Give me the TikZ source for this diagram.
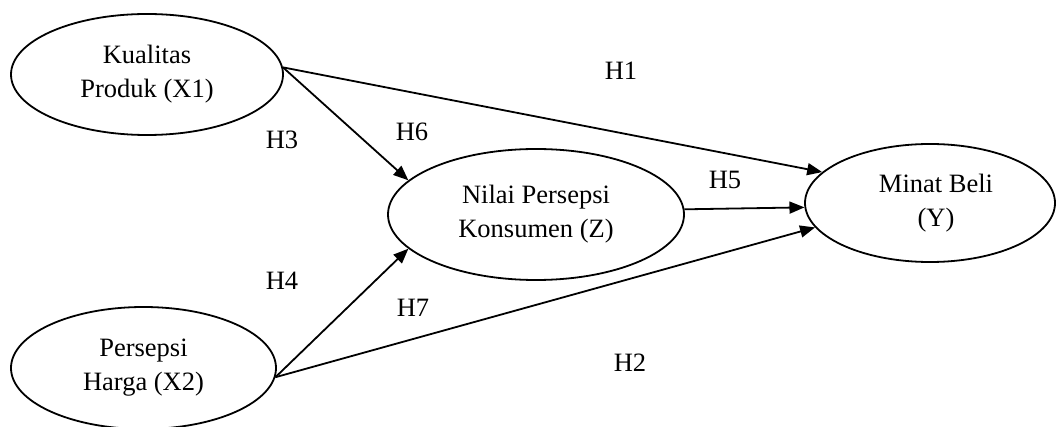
\documentclass[tikz,border=0pt]{standalone}
\usepackage{fontspec}
\setmainfont{Liberation Serif}
\usetikzlibrary{shapes.geometric,arrows.meta}
\begin{document}
\begin{tikzpicture}[x=1pt,y=-1pt,
  var/.style={ellipse,draw,line width=1.8pt,inner sep=0pt,align=center,
    font=\fontsize{26.5}{34}\selectfont},
  path/.style={line width=1.8pt,-{Triangle[length=15pt,width=12pt]}},
  hyp/.style={font=\fontsize{26.5}{30}\selectfont,inner sep=0pt}]
\useasboundingbox (0,0) rectangle (1056,427);
\node[var,minimum width=272pt,minimum height=121pt] (x1) at (147,74.5) {Kualitas\\Produk (X1)};
\node[var,minimum width=265pt,minimum height=122pt] (x2) at (143.5,368) {Persepsi\\Harga (X2)};
\node[var,minimum width=296pt,minimum height=131pt] (z) at (536,214.5) {Nilai Persepsi\\Konsumen (Z)};
\node[var,minimum width=250pt,minimum height=118pt] (y) at (930,203) {\hspace*{12pt}Minat Beli\\\hspace*{12pt}(Y)};
\draw[path] (x1.3) -- (y.164.5);
\draw[path] (x1.3) -- (z.165);
\draw[path] (z.2) -- (y.182);
\draw[path] (x2.356) -- (z.195);
\draw[path] (x2.356) -- (y.192);
\node[hyp] (h1) at (621,71) {H1};
\node[hyp] (h3) at (282,140) {H3};
\node[hyp] (h6) at (412,132) {H6};
\node[hyp] (h5) at (725,180) {H5};
\node[hyp] (h4) at (282,281) {H4};
\node[hyp] (h7) at (413,308) {H7};
\node[hyp] (h2) at (630,363) {H2};
\end{tikzpicture}
\end{document}
